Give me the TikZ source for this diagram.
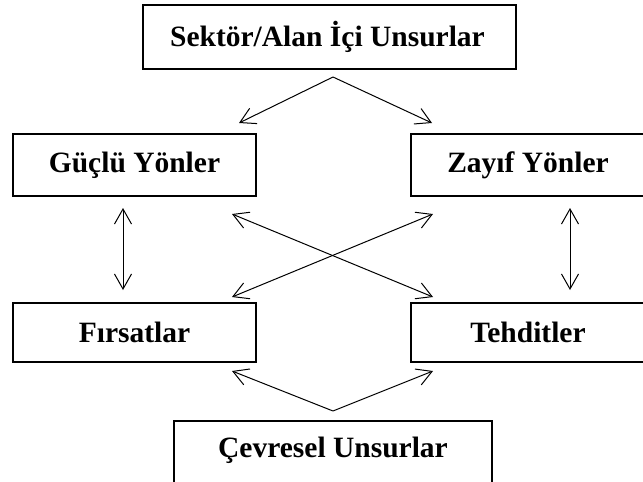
\documentclass[tikz,border=0pt]{standalone}
\usepackage{fontspec}
\setmainfont{Liberation Serif}
\usetikzlibrary{arrows.meta}

\begin{document}
\begin{tikzpicture}[x=1pt,y=-1pt,<->,>={Straight Barb[length=15pt,width=17pt]},
  line width=1pt,main node/.style={rectangle,draw,line width=1.8pt,inner sep=0pt,
  font=\fontsize{29.5}{34}\selectfont\bfseries}]
  \useasboundingbox (0,0) rectangle (643,482);

  \node[main node, minimum width=373pt, minimum height=64pt] (sektor) at (329.5,37) {\hspace*{-4pt}Sektör/Alan İçi Unsurlar};
  \node[main node, minimum width=243pt, minimum height=62pt] (guclu) at (134.5,165) {Güçlü Yönler};
  \node[main node, minimum width=234pt, minimum height=62pt] (zayif) at (528,165) {Zayıf Yönler};
  \node[main node, minimum width=243pt, minimum height=59pt] (firsat) at (134.5,332.5) {Fırsatlar};
  \node[main node, minimum width=234pt, minimum height=59pt] (tehdit) at (528,332.5) {Tehditler};
  \node[main node, minimum width=318pt, minimum height=70pt] (cevre) at (333,456) {\raisebox{17pt}{Çevresel Unsurlar}};

  % uc noktalar
  \coordinate (ust) at (333,77);
  \coordinate (alt) at (333,411);
  \coordinate (g1) at (239,123);
  \coordinate (z1) at (432,123);
  \coordinate (g2) at (232,214);
  \coordinate (z2) at (433,214);
  \coordinate (f2) at (232,297);
  \coordinate (t2) at (433,297);
  \coordinate (f3) at (232,371);
  \coordinate (t3) at (433,371);
  \coordinate (gv) at (123,208);
  \coordinate (fv) at (123,290);
  \coordinate (zv) at (570,208);
  \coordinate (tv) at (570,290);

  \draw[->] (ust) -- (g1);
  \draw[->] (ust) -- (z1);
  \draw (g2) -- (t2);
  \draw (z2) -- (f2);
  \draw (gv) -- (fv);
  \draw (zv) -- (tv);
  \draw[->] (alt) -- (f3);
  \draw[->] (alt) -- (t3);
\end{tikzpicture}
\end{document}
